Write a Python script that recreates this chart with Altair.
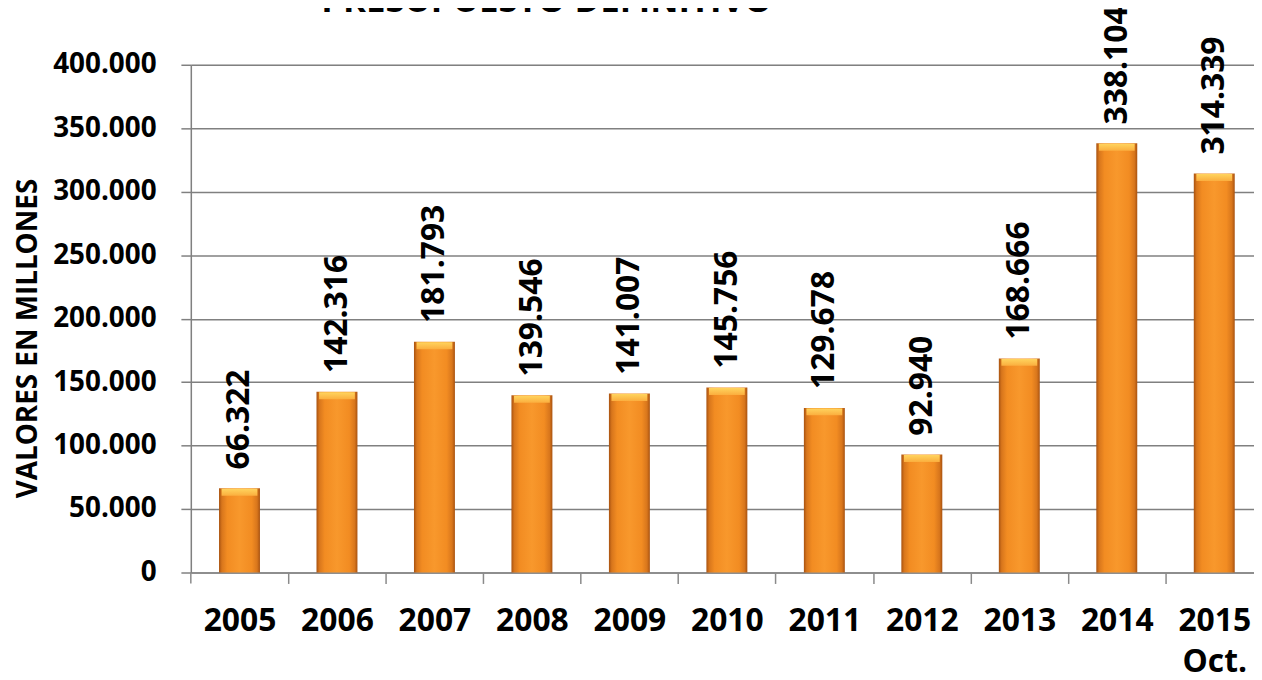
import altair as alt
import pandas as pd

years = ["2005", "2006", "2007", "2008", "2009", "2010", "2011", "2012", "2013", "2014", "2015 Oct."]
values = [66322, 142316, 181793, 139546, 141007, 145756, 129678, 92940, 168666, 338104, 314339]
labels = [f"{v/1000:.3f}" for v in values]
y_ticks = [0, 50000, 100000, 150000, 200000, 250000, 300000, 350000, 400000]
title_text = "PRESUPUESTO DEFINITIVO"
y_title = "VALORES EN MILLONES"

df = pd.DataFrame({"year": years, "value": values, "label": labels})
FONT = "Open Sans"

# band layout: the last category runs past the right edge, as in the reference
xscale = alt.Scale(domain=years, paddingInner=0.58, paddingOuter=0.2435, align=0.594)
yscale = alt.Scale(domain=[0, 400000], nice=False)

base = alt.Chart(df)

bar_grad = alt.Gradient(
    gradient="linear",
    stops=[
        alt.GradientStop(color="#A85210", offset=0),
        alt.GradientStop(color="#D8761C", offset=0.07),
        alt.GradientStop(color="#F28C22", offset=0.2),
        alt.GradientStop(color="#F8982C", offset=0.5),
        alt.GradientStop(color="#F28C22", offset=0.8),
        alt.GradientStop(color="#D8761C", offset=0.93),
        alt.GradientStop(color="#A85210", offset=1),
    ],
    x1=0, x2=1, y1=0, y2=0,
)

bars = base.mark_bar(color=bar_grad).encode(
    x=alt.X(
        "year:N",
        scale=xscale,
        sort=years,
        axis=alt.Axis(
            title=None,
            labelAngle=0,
            labelFont=FONT,
            labelFontSize=32,
            labelFontWeight="bold",
            labelColor="#000000",
            labelPadding=22,
            labelBaseline="top",
            labelLineHeight=42,
            labelExpr="datum.label == '2015 Oct.' ? ['2015', 'Oct.'] : datum.label",
            tickOffset=49,
            labelOffset=-49,
            tickSize=11,
            tickColor="#8a8a8a",
            tickWidth=1.5,
            domainColor="#8a8a8a",
            domainWidth=1.5,
            grid=False,
        ),
    ),
    y=alt.Y(
        "value:Q",
        scale=yscale,
        axis=alt.Axis(
            values=y_ticks,
            title=y_title,
            titleFont=FONT,
            titleFontSize=28,
            titleFontWeight="bold",
            titleColor="#000000",
            titleX=-163,
            titleY=275,
            titleAngle=270,
            titleAlign="center",
            titleBaseline="middle",
            labelFont=FONT,
            labelFontSize=28,
            labelFontWeight="bold",
            labelColor="#000000",
            labelPadding=25,
            labelExpr="datum.value == 0 ? '0' : replace(format(datum.value, ',.0f'), ',', '.')",
            tickSize=10,
            tickColor="#808080",
            tickWidth=1.5,
            domainColor="#808080",
            domainWidth=1.5,
            gridColor="#808080",
            gridWidth=1.5,
        ),
    ),
)

bevel_grad = alt.Gradient(
    gradient="linear",
    stops=[
        alt.GradientStop(color="#FFD45E", offset=0),
        alt.GradientStop(color="#FBAE3E", offset=1),
    ],
    x1=0, x2=0, y1=0, y2=1,
)

bevel = base.mark_tick(color=bevel_grad, thickness=7, size=36, yOffset=4, opacity=1).encode(
    x=alt.X("year:N", scale=xscale, sort=years),
    y=alt.Y("value:Q", scale=yscale),
)

text = base.mark_text(
    angle=270, align="left", baseline="middle", dx=19,
    font=FONT, fontSize=32, fontWeight="bold", color="#000000",
).encode(
    x=alt.X("year:N", scale=xscale, sort=years),
    y=alt.Y("value:Q", scale=yscale),
    text="label:N",
)

# the first category tick under the y axis
left_tick = alt.Chart(pd.DataFrame({"k": [0]})).mark_rule(color="#8a8a8a", strokeWidth=1.5).encode(
    x=alt.value(0), y=alt.value(511), y2=alt.value(522)
)

title = alt.Chart(pd.DataFrame({"t": [title_text]})).mark_text(
    align="center", baseline="alphabetic", font=FONT, fontSize=35, fontWeight="bold", color="#000000",
).encode(
    text="t:N",
    x=alt.value(358),
    y=alt.value(-53),
)

chart = alt.layer(bars, bevel, text, left_tick, title).properties(
    width=1070,
    height=511,
    autosize=alt.AutoSizeParams(type="none"),
    padding={"left": 184, "top": 55, "right": 0, "bottom": 98},
).configure_view(stroke=None).configure(background="#ffffff")

chart.save("out.html", embed_options={"renderer": "svg", "actions": False})
